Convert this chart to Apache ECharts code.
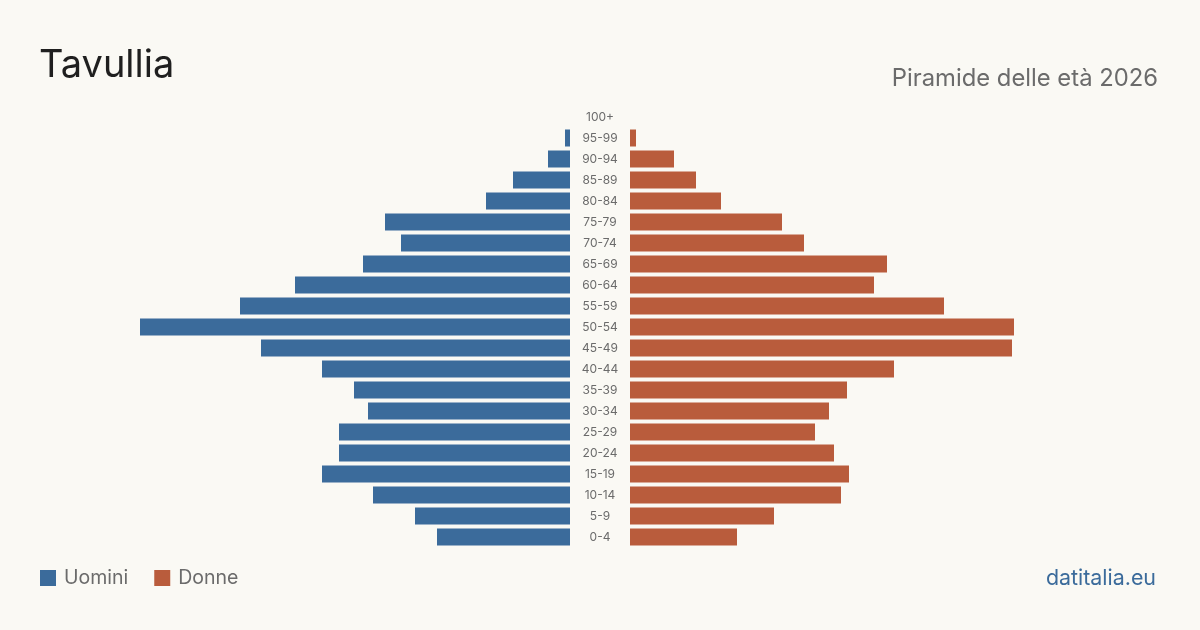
<!DOCTYPE html>
<html>
<head>
<meta charset="utf-8">
<script src="https://cdn.jsdelivr.net/npm/echarts@6/dist/echarts.min.js"></script>
<style>
  html, body { margin: 0; padding: 0; background: #faf9f4; }
  #chart { width: 1200px; height: 630px; }
</style>
</head>
<body>
<div id="chart"></div>
<script>
// fasce d'età dall'alto verso il basso
const ageGroups = ['100+', '95-99', '90-94', '85-89', '80-84', '75-79', '70-74', '65-69', '60-64', '55-59',
  '50-54', '45-49', '40-44', '35-39', '30-34', '25-29', '20-24', '15-19', '10-14', '5-9', '0-4']
const men = [0, 5, 22, 57, 84, 185, 169, 207, 275, 330, 430, 309, 248, 216, 202, 231, 231, 248, 197, 155, 133]
const women = [0, 6, 44, 66, 91, 152, 174, 257, 244, 314, 384, 382, 264, 217, 199, 185, 204, 219, 211, 144, 107]

const BLUE = '#3b6b9b'
const ORANGE = '#b95c3c'
const FONT = 'Inter, "Noto Sans", sans-serif'
const MAX = 450

const chart = echarts.init(document.getElementById('chart'))
chart.setOption({
  backgroundColor: '#faf9f4',
  animation: false,
  title: [
    {
      text: 'Tavullia',
      left: 34,
      top: 42,
      textStyle: { fontFamily: FONT, fontSize: 38, fontWeight: 'normal', color: '#1f1f1f' }
    },
    {
      text: 'Piramide delle età 2026',
      right: 37,
      top: 62,
      textStyle: { fontFamily: FONT, fontSize: 23.8, fontWeight: 'normal', color: '#6b6b6b' }
    },
    {
      text: 'datitalia.eu',
      right: 39,
      top: 563,
      textStyle: { fontFamily: FONT, fontSize: 21.4, fontWeight: 'normal', color: '#3b6b9b' }
    }
  ],
  legend: {
    left: 35,
    top: 563,
    itemWidth: 16,
    itemHeight: 16,
    itemGap: 26,
    icon: 'rect',
    textStyle: { fontFamily: FONT, fontSize: 19.5, color: '#6b6b6b', padding: [0, 0, 0, 3] },
    data: ['Uomini', 'Donne']
  },
  grid: [
    { left: 570 - MAX, width: MAX, top: 106.5, height: 441 },
    { left: 630, width: MAX, top: 106.5, height: 441 }
  ],
  xAxis: [
    { gridIndex: 0, type: 'value', min: 0, max: MAX, inverse: true, show: false },
    { gridIndex: 1, type: 'value', min: 0, max: MAX, show: false }
  ],
  yAxis: [
    {
      gridIndex: 0,
      type: 'category',
      data: ageGroups,
      inverse: true,
      position: 'right',
      axisLine: { show: false },
      axisTick: { show: false },
      axisLabel: {
        margin: 30,
        align: 'center',
        fontFamily: FONT,
        fontSize: 12,
        color: '#6b6b6b'
      }
    },
    {
      gridIndex: 1,
      type: 'category',
      data: ageGroups,
      inverse: true,
      show: false
    }
  ],
  series: [
    {
      name: 'Uomini',
      type: 'bar',
      xAxisIndex: 0,
      yAxisIndex: 0,
      barWidth: 17,
      itemStyle: { color: BLUE },
      data: men
    },
    {
      name: 'Donne',
      type: 'bar',
      xAxisIndex: 1,
      yAxisIndex: 1,
      barWidth: 17,
      itemStyle: { color: ORANGE },
      data: women
    }
  ]
})
</script>
</body>
</html>
